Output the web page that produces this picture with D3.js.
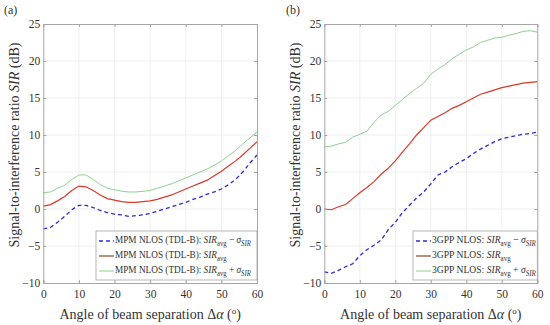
<!DOCTYPE html>
<html>
<head>
<meta charset="utf-8">
<script src="https://cdn.jsdelivr.net/npm/d3@7"></script>
<style>
  body { margin: 0; background: #fff; }
  svg text { font-family: "Liberation Serif", "DejaVu Serif", serif; fill: #333; }
</style>
</head>
<body>
<svg id="chart" width="550" height="325"></svg>
<script>
// angle of beam separation (deg)
const angles = d3.range(0, 61, 2);

// (a) MPM NLOS (TDL-B)
const mpmMinus = [-2.7, -2.5, -1.8, -1.0, -0.1, 0.5, 0.5, 0.2, -0.2, -0.5, -0.7, -0.8, -1.0, -0.9, -0.8, -0.6,
  -0.3, 0.0, 0.3, 0.6, 0.9, 1.3, 1.6, 2.0, 2.3, 2.7, 3.3, 4.0, 5.0, 6.2, 7.3];
const mpmAvg = [0.4, 0.6, 1.1, 1.7, 2.5, 3.1, 3.0, 2.5, 1.9, 1.4, 1.2, 1.0, 0.9, 0.9, 1.0, 1.1,
  1.3, 1.6, 1.9, 2.3, 2.7, 3.1, 3.5, 3.9, 4.5, 5.1, 5.8, 6.5, 7.3, 8.2, 9.1];
const mpmPlus = [2.2, 2.3, 2.8, 3.2, 4.0, 4.6, 4.6, 4.0, 3.3, 2.8, 2.6, 2.4, 2.3, 2.3, 2.4, 2.5,
  2.8, 3.1, 3.4, 3.8, 4.2, 4.6, 5.0, 5.4, 5.9, 6.5, 7.2, 7.9, 8.8, 9.6, 10.4];

// (b) 3GPP NLOS
const gppMinus = [-8.5, -8.7, -8.3, -7.8, -7.4, -6.3, -5.5, -4.9, -4.2, -2.8, -1.8, -0.5, 0.5, 1.5, 2.3, 3.4,
  4.6, 5.0, 5.7, 6.3, 6.8, 7.5, 8.1, 8.6, 9.1, 9.5, 9.7, 9.9, 10.1, 10.2, 10.4];
const gppAvg = [0.0, -0.1, 0.3, 0.6, 1.4, 2.2, 2.9, 3.7, 4.7, 5.5, 6.5, 7.7, 8.8, 10.0, 11.0, 12.0,
  12.5, 13.0, 13.6, 14.0, 14.5, 15.0, 15.5, 15.8, 16.1, 16.4, 16.6, 16.8, 17.0, 17.1, 17.2];
const gppPlus = [8.4, 8.5, 8.8, 9.0, 9.7, 10.1, 10.5, 11.7, 12.7, 13.2, 14.0, 14.8, 15.6, 16.3, 17.0, 18.2,
  18.9, 19.5, 20.3, 20.9, 21.5, 21.9, 22.5, 22.8, 23.1, 23.2, 23.5, 23.7, 24.0, 24.1, 23.9];

const xTicks = [0, 10, 20, 30, 40, 50, 60];
const yTicks = [-10, -5, 0, 5, 10, 15, 20, 25];

const colors = { minus: "#2b2bd6", avg: "#d8392b", plus: "#8fd18f" };

const svg = d3.select("#chart");

function panel(opts) {
  const x = d3.scaleLinear().domain([0, 60]).range([opts.left, opts.right]);
  const y = d3.scaleLinear().domain([-10, 25]).range([283, 24]);
  const g = svg.append("g");

  // grid
  g.selectAll(".gx").data(xTicks.slice(1, -1)).enter().append("line")
    .attr("x1", d => x(d)).attr("x2", d => x(d))
    .attr("y1", y(-10)).attr("y2", y(25))
    .attr("stroke", "#ebebeb").attr("stroke-width", 0.8);
  g.selectAll(".gy").data(yTicks.slice(1, -1)).enter().append("line")
    .attr("x1", x(0)).attr("x2", x(60))
    .attr("y1", d => y(d)).attr("y2", d => y(d))
    .attr("stroke", "#ebebeb").attr("stroke-width", 0.8);

  // lines
  const line = d3.line().x((d, i) => x(angles[i])).y(d => y(d));
  g.append("path").datum(opts.plus).attr("d", line)
    .attr("fill", "none").attr("stroke", colors.plus).attr("stroke-width", 1);
  g.append("path").datum(opts.avg).attr("d", line)
    .attr("fill", "none").attr("stroke", colors.avg).attr("stroke-width", 1.2);
  g.append("path").datum(opts.minus).attr("d", line)
    .attr("fill", "none").attr("stroke", colors.minus).attr("stroke-width", 1.3)
    .attr("stroke-dasharray", "4,3");

  // axes (ticks inward, box)
  g.append("g").attr("transform", `translate(0,${y(-10)})`)
    .call(d3.axisBottom(x).tickValues(xTicks).tickSize(-3).tickPadding(7));
  g.append("g").attr("transform", `translate(${x(0)},0)`)
    .call(d3.axisLeft(y).tickValues(yTicks).tickSize(-3).tickPadding(3)
      .tickFormat(d => d < 0 ? "\u2212" + Math.abs(d) : d));
  g.append("g").attr("transform", `translate(0,${y(25)})`)
    .call(d3.axisTop(x).tickValues(xTicks).tickSize(-3).tickFormat(""));
  g.append("g").attr("transform", `translate(${x(60)},0)`)
    .call(d3.axisRight(y).tickValues(yTicks).tickSize(-3).tickFormat(""));
  g.selectAll(".domain, .tick line").attr("stroke", "#a6a6a6");
  g.selectAll(".tick text").attr("font-size", 11.5).attr("fill", "#333");

  // x label
  const xl = g.append("text").attr("x", (x(0) + x(60)) / 2).attr("y", 319)
    .attr("text-anchor", "middle").attr("font-size", 14);
  xl.append("tspan").text("Angle of beam separation  ");
  xl.append("tspan").text("\u0394");
  xl.append("tspan").text("\u03b1").attr("font-style", "italic");
  xl.append("tspan").text("  (");
  xl.append("tspan").text("o").attr("font-size", 9).attr("dy", -5);
  xl.append("tspan").text(")").attr("dy", 5);

  // y label
  const yl = g.append("text")
    .attr("transform", `translate(${opts.left - 24},145) rotate(-90)`)
    .attr("text-anchor", "middle").attr("font-size", 14);
  yl.append("tspan").text("Signal-to-interference ratio  ");
  yl.append("tspan").text("SIR").attr("font-style", "italic");
  yl.append("tspan").text("  (dB)");

  // panel tag
  g.append("text").attr("x", opts.tagX).attr("y", 14).attr("font-size", 12).text(opts.tag);

  // legend
  const lg = g.append("g");
  lg.append("rect").attr("x", opts.legX).attr("y", 231)
    .attr("width", x(60) - opts.legX).attr("height", 49)
    .attr("fill", "#fff").attr("stroke", "#a6a6a6").attr("stroke-width", 0.8);
  const items = [
    { c: colors.minus, dash: "4,3", w: 1.3, sign: " \u2212 " },
    { c: "#8b4a2b", dash: null, w: 1.2, sign: null },
    { c: colors.plus, dash: null, w: 1, sign: " + " }
  ];
  const textX = opts.legX + 19;
  let sx = null;
  items.forEach((it, i) => {
    const cy = 240 + i * 15;
    lg.append("line").attr("x1", opts.legX + 3).attr("x2", opts.legX + 18)
      .attr("y1", cy + 1).attr("y2", cy + 1)
      .attr("stroke", it.c).attr("stroke-width", it.w)
      .attr("stroke-dasharray", it.dash);
    const t = lg.append("text").attr("x", textX).attr("y", cy + 3).attr("font-size", 11);
    t.append("tspan").text(opts.name + ": ");
    t.append("tspan").text("SIR").attr("font-style", "italic");
    t.append("tspan").text("avg").attr("font-size", 8).attr("dy", 3);
    if (it.sign) {
      t.append("tspan").text(it.sign).attr("dy", -3);
      t.append("tspan").text("\u03c3").attr("font-style", "italic");
      t.append("tspan").text("SIR").attr("font-style", "italic").attr("font-size", 8).attr("dy", 3);
    }
    // fit the first row to the legend width, same horizontal squeeze for all rows
    if (sx === null) sx = Math.min(1.05, opts.legTextW / t.node().getBBox().width);
    t.attr("transform", `translate(${textX},0) scale(${sx},1) translate(${-textX},0)`);
  });
}

panel({ left: 43.3, right: 257, tag: "(a)", tagX: 4, legX: 96, legTextW: 136,
  name: "MPM NLOS (TDL-B)", minus: mpmMinus, avg: mpmAvg, plus: mpmPlus });
panel({ left: 324.3, right: 537.3, tag: "(b)", tagX: 286, legX: 413, legTextW: 104,
  name: "3GPP NLOS", minus: gppMinus, avg: gppAvg, plus: gppPlus });
</script>
</body>
</html>
